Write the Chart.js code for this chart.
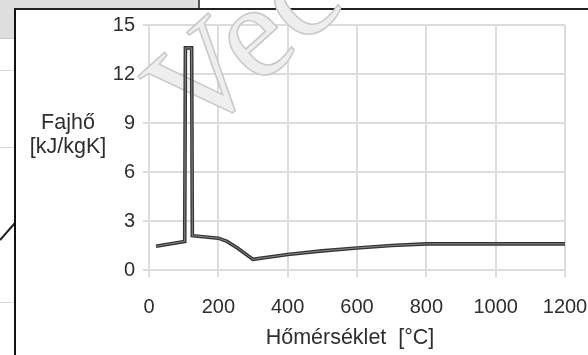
<!DOCTYPE html>
<html>
<head>
<meta charset="utf-8">
<script src="https://cdn.jsdelivr.net/npm/chart.js@4.4.0/dist/chart.umd.min.js"></script>
<style>
  html, body { margin: 0; padding: 0; background: #fff; overflow: hidden; }
  #wrap { position: relative; width: 588px; height: 355px; overflow: hidden; }
  .deco { position: absolute; }
  canvas { position: absolute; left: 0; top: 0; }
</style>
</head>
<body>
<div id="wrap">
  <!-- scanned page leftovers around the figure -->
  <div class="deco" style="left:0;top:0;width:199px;height:8px;background:#dedede;"></div>
  <div class="deco" style="left:198px;top:0;width:2px;height:8px;background:#555;"></div>
  <div class="deco" style="left:0;top:0;width:14px;height:38px;background:#dedede;border-bottom:1px solid #ccc;"></div>
  <div class="deco" style="left:0;top:70px;width:14px;height:1px;background:#d8d8d8;"></div>
  <div class="deco" style="left:0;top:147px;width:14px;height:1px;background:#d8d8d8;"></div>
  <div class="deco" style="left:0;top:302px;width:14px;height:1px;background:#d8d8d8;"></div>
  <svg class="deco" style="left:0;top:215px" width="16" height="30">
    <line x1="0" y1="25" x2="15" y2="8" stroke="#222" stroke-width="2"/>
  </svg>
  <div class="deco" style="left:14px;top:8px;width:574px;height:347px;background:#fff;border-left:2px solid #111;border-top:2px solid #222;"></div>
  <canvas id="c" width="588" height="355"></canvas>
</div>
<script>
// temperature [°C] and specific heat [kJ/kgK]
var temps = [20, 103, 105, 123, 125, 200, 225, 255, 300, 400, 500, 600, 700, 800, 1200];
var cp    = [1.45, 1.75, 13.6, 13.6, 2.1, 1.95, 1.75, 1.35, 0.65, 0.95, 1.17, 1.35, 1.5, 1.6, 1.6];
var xTicks = [0, 200, 400, 600, 800, 1000, 1200];
var yTicks = [0, 3, 6, 9, 12, 15];

var pts = temps.map(function (t, i) { return { x: t, y: cp[i] }; });

var txt = '#2e2e2e';
var fam = '"Liberation Sans", Arial, sans-serif';

// titles are horizontal in the original, so draw them by hand;
// x tick labels too, so their overhang does not shrink the plot
var titles = {
  id: 'titles',
  beforeDatasetsDraw: function (chart) {
    // faint watermark of the scan
    var c = chart.ctx;
    c.save();
    c.translate(196, 143);
    c.rotate(-42 * Math.PI / 180);
    c.font = '135px "Liberation Serif", serif';
    c.fillStyle = '#eeeeee';
    c.strokeStyle = '#c8c8c8';
    c.lineWidth = 1.5;
    c.fillText('Veco', 0, 0);
    c.strokeText('Veco', 0, 0);
    c.restore();
  },
  afterDraw: function (chart) {
    var c = chart.ctx;
    var xs = chart.scales.x;
    c.save();
    c.fillStyle = txt;
    c.textAlign = 'center';
    c.textBaseline = 'middle';
    c.font = '20px ' + fam;
    xTicks.forEach(function (v) {
      c.fillText(String(v), xs.getPixelForValue(v), chart.chartArea.bottom + 37);
    });
    c.font = '21.5px ' + fam;
    c.fillText('Fajhő', 68, 123);
    c.fillText('[kJ/kgK]', 68, 147);
    c.fillText('Hőmérséklet  [°C]', 350, 338);
    c.restore();
  }
};

var ctx = document.getElementById('c').getContext('2d');
var chart = new Chart(ctx, {
  type: 'line',
  data: {
    datasets: [{
      data: pts,
      borderColor: '#8a8a8a',
      borderWidth: 1,
      pointRadius: 0,
      tension: 0,
      borderJoinStyle: 'miter',
      order: 0
    }, {
      data: pts,
      borderColor: '#333333',
      borderWidth: 3.6,
      pointRadius: 0,
      tension: 0,
      borderJoinStyle: 'miter',
      order: 1
    }]
  },
  options: {
    responsive: false,
    animation: false,
    layout: { padding: { top: 25, right: 23, left: 0, bottom: 0 } },
    plugins: { legend: { display: false }, tooltip: { enabled: false } },
    scales: {
      x: {
        type: 'linear',
        min: 0, max: 1200,
        afterFit: function (s) { s.height = 85; },
        afterBuildTicks: function (s) { s.ticks = xTicks.map(function (v) { return { value: v }; }); },
        grid: { color: '#dcdcdc', lineWidth: 2, tickLength: 7 },
        border: { color: '#dcdcdc', width: 2 },
        ticks: { display: false }
      },
      y: {
        min: 0, max: 15,
        afterFit: function (s) { s.width = 149; },
        afterBuildTicks: function (s) { s.ticks = yTicks.map(function (v) { return { value: v }; }); },
        grid: { color: '#dcdcdc', lineWidth: 2, tickLength: 6 },
        border: { color: '#dcdcdc', width: 2 },
        ticks: { color: txt, font: { family: fam, size: 20 }, padding: 8,
          callback: function (v) { return String(v); } }
      }
    }
  },
  plugins: [titles]
});
</script>
</body>
</html>
